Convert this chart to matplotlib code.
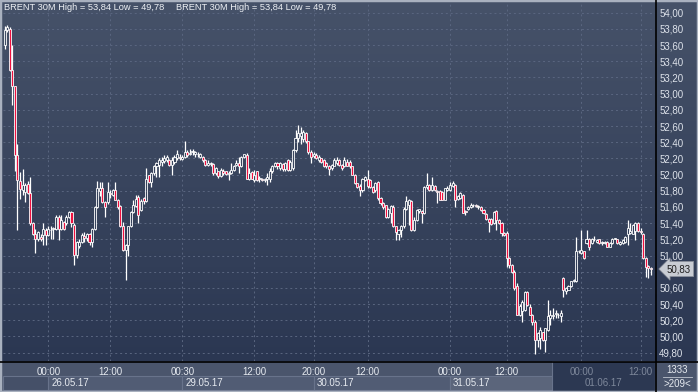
import numpy as np
import matplotlib
matplotlib.use("Agg")
import matplotlib.pyplot as plt
from matplotlib.colors import LinearSegmentedColormap
from matplotlib.patches import Rectangle
from matplotlib.lines import Line2D

plt.rcParams['font.family'] = ['Liberation Sans', 'DejaVu Sans']

# BRENT 30M candles (open, high, low, close)
opens = [53.60, 53.79, 53.80, 53.29, 53.09, 52.24, 51.92, 51.81, 51.79, 51.88,
         51.77, 51.40, 51.27, 51.21, 51.23, 51.25, 51.32, 51.25, 51.31, 51.33,
         51.33, 51.48, 51.33, 51.41, 51.40, 51.47, 51.54, 51.38, 51.01, 51.12,
         51.17, 51.24, 51.22, 51.27, 51.17, 51.33, 51.60, 51.80, 51.84, 51.66,
         51.66, 51.77, 51.75, 51.81, 51.69, 51.61, 51.36, 51.07, 51.13, 51.36,
         51.54, 51.61, 51.72, 51.56,
         51.71, 51.67, 51.99, 51.91, 52.02, 52.10, 52.12, 52.15, 52.17, 52.18,
         52.18, 52.12, 52.16, 52.20, 52.22, 52.19, 52.22, 52.28, 52.26, 52.28,
         52.25, 52.26, 52.22, 52.22, 52.18, 52.12, 52.13, 52.13, 52.02, 52.04,
         51.98, 52.05, 52.04, 52.01, 52.02, 52.06, 52.12, 52.14, 52.10, 52.22,
         52.24, 51.95, 52.03, 51.93, 52.04, 51.95, 51.95, 51.93, 51.94, 51.95,
         52.04, 52.10,
         52.14, 52.08, 52.13, 52.07, 52.18, 52.06, 52.08, 52.30, 52.45, 52.48,
         52.44, 52.51, 52.41, 52.28, 52.23, 52.24, 52.18, 52.20, 52.18, 52.14,
         52.11, 52.08, 52.11, 52.14, 52.18, 52.12, 52.10, 52.16, 52.16, 52.10,
         52.00, 51.89, 51.86, 51.81, 51.93, 51.95, 51.93, 51.85, 51.81, 51.91,
         51.71, 51.65, 51.62, 51.48, 51.52, 51.60, 51.36, 51.27, 51.32, 51.36,
         51.58, 51.62, 51.67, 51.32, 51.44, 51.55, 51.55, 51.52, 51.85, 51.87,
         51.81, 51.86, 51.80, 51.80, 51.79, 51.69, 51.81, 51.81, 51.86, 51.87,
         51.70, 51.71, 51.75, 51.55, 51.57, 51.60, 51.62, 51.62, 51.60, 51.60,
         51.56, 51.51, 51.45, 51.45, 51.40, 51.55, 51.44, 51.40, 51.28,
         51.28, 50.97, 50.88, 50.80, 50.62, 50.27, 50.31, 50.33, 50.55, 50.37,
         50.27, 50.18, 49.96, 49.98, 50.05, 49.96, 50.08, 50.23, 50.25, 50.28,
         50.27, 50.25, 50.72, 50.56, 50.58, 50.62, 50.68, 50.68, 51.05, 51.03,
         51.05, 51.15, 51.21, 51.15, 51.20, 51.17, 51.20, 51.16, 51.15, 51.17,
         51.11, 51.15, 51.21, 51.20, 51.14, 51.15, 51.17, 51.27, 51.28, 51.27,
         51.30, 51.40, 51.30, 51.27, 50.97, 50.87, 50.84]
highs = [53.84, 53.85, 53.82, 53.60, 53.10, 52.38, 52.03, 52.07, 51.89, 51.92,
         51.97, 51.41, 51.33, 51.30, 51.26, 51.40, 51.34, 51.36, 51.36, 51.35,
         51.50, 51.50, 51.50, 51.43, 51.50, 51.55, 51.55, 51.40, 51.18, 51.21,
         51.28, 51.29, 51.28, 51.28, 51.34, 51.61, 51.92, 51.91, 51.91, 51.67,
         51.91, 51.81, 51.82, 51.91, 51.70, 51.62, 51.42, 51.14, 51.37, 51.55,
         51.69, 51.75, 51.75, 51.70,
         51.72, 52.08, 52.00, 52.03, 52.12, 52.16, 52.20, 52.22, 52.24, 52.24,
         52.19, 52.22, 52.24, 52.30, 52.25, 52.24, 52.41, 52.30, 52.31, 52.31,
         52.29, 52.28, 52.27, 52.23, 52.19, 52.18, 52.16, 52.14, 52.09, 52.05,
         52.08, 52.07, 52.05, 52.04, 52.14, 52.12, 52.18, 52.22, 52.23, 52.26,
         52.27, 52.08, 52.04, 52.06, 52.05, 51.98, 51.96, 51.96, 52.02, 52.08,
         52.12, 52.16,
         52.16, 52.15, 52.14, 52.16, 52.19, 52.18, 52.32, 52.55, 52.61, 52.59,
         52.55, 52.53, 52.42, 52.30, 52.28, 52.27, 52.24, 52.21, 52.19, 52.15,
         52.12, 52.13, 52.20, 52.22, 52.19, 52.13, 52.22, 52.19, 52.18, 52.11,
         52.01, 51.90, 51.88, 51.96, 51.98, 52.06, 51.94, 51.86, 51.91, 51.92,
         51.72, 51.66, 51.63, 51.59, 51.63, 51.62, 51.37, 51.33, 51.38, 51.60,
         51.73, 51.70, 51.69, 51.48, 51.57, 51.58, 51.56, 51.86, 52.02, 51.88,
         51.97, 51.87, 51.81, 51.81, 51.80, 51.84, 51.86, 51.91, 51.92, 51.88,
         51.75, 51.78, 51.76, 51.56, 51.61, 51.65, 51.64, 51.64, 51.63, 51.61,
         51.57, 51.52, 51.46, 51.46, 51.55, 51.56, 51.45, 51.41, 51.29,
         51.30, 50.98, 50.90, 50.82, 50.66, 50.40, 50.45, 50.56, 50.56, 50.40,
         50.28, 50.20, 50.05, 50.12, 50.06, 50.11, 50.45, 50.33, 50.35, 50.33,
         50.29, 50.33, 50.74, 50.61, 50.64, 50.69, 50.71, 51.23, 51.07, 51.32,
         51.06, 51.32, 51.22, 51.22, 51.24, 51.20, 51.21, 51.18, 51.18, 51.18,
         51.17, 51.22, 51.22, 51.21, 51.18, 51.20, 51.24, 51.44, 51.40, 51.39,
         51.42, 51.42, 51.34, 51.28, 50.98, 50.88, 50.86]
lows = [53.55, 53.76, 53.28, 52.86, 52.04, 51.31, 51.70, 51.75, 51.66, 51.76,
        51.38, 51.25, 51.03, 51.18, 51.18, 51.13, 51.13, 51.24, 51.21, 51.21,
        51.32, 51.19, 51.32, 51.32, 51.38, 51.46, 51.35, 50.88, 50.97, 51.09,
        51.15, 51.17, 51.18, 51.13, 51.11, 51.32, 51.59, 51.73, 51.65, 51.48,
        51.64, 51.71, 51.74, 51.68, 51.58, 51.35, 51.06, 50.70, 50.99, 51.35,
        51.53, 51.60, 51.40, 51.55,
        51.64, 51.66, 51.90, 51.85, 52.00, 51.97, 51.97, 52.10, 52.14, 52.16,
        52.10, 52.00, 52.13, 52.18, 52.18, 52.18, 52.21, 52.22, 52.24, 52.24,
        52.22, 52.22, 52.20, 52.16, 52.10, 52.10, 52.11, 52.00, 52.00, 51.96,
        51.97, 52.00, 52.00, 51.93, 52.01, 52.05, 52.11, 52.02, 52.09, 52.21,
        51.94, 51.93, 51.94, 51.91, 51.92, 51.91, 51.92, 51.91, 51.87, 51.91,
        52.02, 52.09,
        52.07, 52.06, 52.05, 52.05, 52.04, 52.05, 52.06, 52.28, 52.40, 52.38,
        52.40, 52.39, 52.26, 52.14, 52.21, 52.19, 52.16, 52.14, 52.09, 52.08,
        52.00, 52.06, 52.10, 52.12, 52.11, 52.06, 52.09, 52.10, 52.08, 51.99,
        51.88, 51.83, 51.73, 51.79, 51.92, 51.84, 51.83, 51.77, 51.79, 51.69,
        51.63, 51.58, 51.46, 51.46, 51.40, 51.35, 51.19, 51.19, 51.23, 51.34,
        51.56, 51.38, 51.30, 51.30, 51.43, 51.52, 51.40, 51.51, 51.82, 51.80,
        51.80, 51.80, 51.65, 51.68, 51.68, 51.68, 51.80, 51.80, 51.85, 51.60,
        51.68, 51.70, 51.52, 51.50, 51.56, 51.59, 51.60, 51.60, 51.58, 51.55,
        51.51, 51.44, 51.29, 51.38, 51.39, 51.32, 51.39, 51.24, 51.24,
        50.86, 50.84, 50.79, 50.58, 50.26, 50.25, 50.18, 50.31, 50.38, 50.26,
        50.14, 49.78, 49.87, 49.85, 49.95, 49.81, 50.07, 50.14, 50.21, 50.23,
        50.23, 50.18, 50.49, 50.53, 50.57, 50.61, 50.67, 50.67, 51.03, 51.02,
        50.96, 51.14, 51.07, 51.14, 51.18, 51.16, 51.14, 51.13, 51.14, 51.10,
        51.10, 51.14, 51.20, 51.14, 51.13, 51.14, 51.16, 51.13, 51.26, 51.26,
        51.19, 51.29, 51.27, 50.96, 50.74, 50.72, 50.76]
closes = [53.78, 53.82, 53.29, 53.09, 52.24, 51.93, 51.82, 51.87, 51.87, 51.77,
          51.40, 51.27, 51.21, 51.29, 51.20, 51.33, 51.25, 51.33, 51.32, 51.34,
          51.48, 51.33, 51.44, 51.33, 51.48, 51.54, 51.40, 51.01, 51.17, 51.17,
          51.25, 51.22, 51.27, 51.17, 51.33, 51.60, 51.83, 51.83, 51.66, 51.60,
          51.79, 51.76, 51.81, 51.69, 51.60, 51.36, 51.07, 51.13, 51.36, 51.54,
          51.62, 51.70, 51.50, 51.67,
          51.67, 51.95, 51.91, 52.02, 52.10, 52.14, 52.18, 52.18, 52.20, 52.22,
          52.12, 52.18, 52.22, 52.26, 52.20, 52.22, 52.28, 52.24, 52.27, 52.28,
          52.28, 52.25, 52.26, 52.18, 52.12, 52.14, 52.13, 52.02, 52.08, 51.98,
          52.06, 52.02, 52.01, 52.02, 52.06, 52.11, 52.14, 52.10, 52.22, 52.25,
          51.95, 52.02, 51.95, 51.99, 51.93, 51.96, 51.93, 51.95, 51.97, 52.04,
          52.10, 52.14,
          52.10, 52.14, 52.07, 52.14, 52.06, 52.16, 52.30, 52.45, 52.51, 52.51,
          52.53, 52.41, 52.28, 52.22, 52.25, 52.20, 52.22, 52.15, 52.11, 52.10,
          52.07, 52.12, 52.18, 52.18, 52.12, 52.08, 52.18, 52.11, 52.10, 52.00,
          51.89, 51.85, 51.81, 51.95, 51.97, 51.86, 51.85, 51.79, 51.89, 51.71,
          51.65, 51.60, 51.48, 51.58, 51.61, 51.36, 51.29, 51.31, 51.36, 51.58,
          51.67, 51.69, 51.32, 51.44, 51.56, 51.57, 51.52, 51.85, 51.87, 51.81,
          51.87, 51.81, 51.79, 51.69, 51.69, 51.83, 51.83, 51.87, 51.89, 51.69,
          51.74, 51.77, 51.53, 51.54, 51.60, 51.62, 51.62, 51.61, 51.60, 51.56,
          51.52, 51.45, 51.41, 51.39, 51.54, 51.44, 51.40, 51.28, 51.25,
          50.97, 50.88, 50.80, 50.60, 50.27, 50.38, 50.43, 50.55, 50.39, 50.27,
          50.18, 49.96, 50.04, 50.08, 49.96, 50.10, 50.25, 50.27, 50.26, 50.29,
          50.26, 50.29, 50.58, 50.60, 50.62, 50.68, 50.70, 51.05, 51.06, 51.07,
          50.97, 51.21, 51.11, 51.21, 51.20, 51.19, 51.15, 51.17, 51.17, 51.11,
          51.16, 51.21, 51.21, 51.15, 51.17, 51.19, 51.23, 51.34, 51.30, 51.38,
          51.40, 51.30, 51.29, 50.97, 50.86, 50.84, 50.83]

# time axis: candle index of each labelled time
tick_idx = [17, 41, 69, 97, 120, 141, 173, 195, 224, 247]
tick_labels = ['00:00', '12:00', '00:30', '12:00', '20:00', '12:00',
               '00:00', '12:00', '00:00', '12:00']
day_start = [17, 69, 120, 173, 224]
day_labels = ['26.05.17', '29.05.17', '30.05.17', '31.05.17', '01.06.17']

y_levels = np.arange(49.8, 54.01, 0.2)
last_price = 50.83
title = 'BRENT 30M High = 53,84 Low = 49,78'

W, H = 698, 392
fig = plt.figure(figsize=(W / 100, H / 100), dpi=100)
fig.patch.set_facecolor('#4a556c')

def fx(px):
    return px / W

def fy(py):
    return 1 - py / H

def comma(v):
    return ('%.2f' % v).replace('.', ',')

# background gradient for chart + price scale
bg = fig.add_axes([0, 0, 1, 1])
bg.set_xlim(0, 1)
bg.set_ylim(0, 1)
bg.axis('off')
grad = np.linspace(0, 1, 256).reshape(-1, 1)
cmap = LinearSegmentedColormap.from_list('bg', ['#2b3752', '#465269'])
bg.imshow(grad, extent=[0, 1, fy(361), 1], origin='lower', aspect='auto', cmap=cmap)

o = np.array(opens)
h = np.array(highs)
l = np.array(lows)
c = np.array(closes)
x = np.arange(len(c))
n = len(c)

ax = fig.add_axes([fx(3), fy(361), fx(652), (361 - 2) / H])
ax.set_facecolor('none')
for s in ax.spines.values():
    s.set_visible(False)

ax.set_xlim(-0.6, n + 0.6)
ax.set_ylim(49.697, 54.132)

# the 50,80 label sits under the last-price tag in the original
ax.set_yticks(y_levels)
ax.set_yticklabels(['' if abs(v - 50.8) < 0.01 else comma(v) for v in y_levels])
ax.yaxis.tick_right()
ax.tick_params(axis='y', length=0, pad=3, labelsize=7, labelcolor='#dde2ea')
ax.set_xticks(tick_idx)
ax.tick_params(axis='x', length=0, labelbottom=False)
ax.grid(True, color='#5a6680', lw=0.7, ls=(0, (2, 3)))
ax.set_axisbelow(True)

top = np.maximum(o, c)
bot = np.minimum(o, c)
up = c >= o
ax.vlines(x, top, h, color='white', lw=0.9, zorder=3)
ax.vlines(x, l, bot, color='white', lw=0.9, zorder=3)
body = np.maximum(top - bot, 0.008)
ax.bar(x, body, bottom=bot, width=0.8,
       color=np.where(up, 'none', '#f0103f'), edgecolor='white', lw=0.6, zorder=4)

fig.text(fx(4), fy(8), title, color='#eef1f5', fontsize=6.7, va='center')
fig.text(fx(176), fy(8), title, color='#eef1f5', fontsize=6.7, va='center')

# last price tag
fig.text(fx(667), fy(269), comma(last_price), fontsize=7,
         color='#1e1e1e', va='center', ha='left', zorder=10,
         bbox=dict(boxstyle='larrow,pad=0.25', fc='#c8ccd3', ec='#8d939e', lw=0.6))

# bottom time scale
bax = fig.add_axes([fx(3), 0, fx(652), 31 / H], sharex=ax)
bax.set_facecolor('#4a556c')
bax.set_ylim(0, 31)
bax.axis('off')
bounds = [-0.6] + day_start + [n + 0.6]
bax.add_patch(Rectangle((bounds[0], 2), bounds[1] - bounds[0], 14,
                        fc='#455068', ec='#68738b', lw=0.8))
for i in range(len(day_start)):
    x0 = bounds[i + 1]
    x1 = bounds[i + 2]
    fc = '#5b657b' if i == 3 else '#515c74'
    bax.add_patch(Rectangle((x0, 2), x1 - x0, 14, fc=fc, ec='#68738b', lw=0.8))
bax.add_patch(Rectangle((212.5, 0), n + 0.6 - 212.5, 31, fc='#2c3852', ec='#68738b',
                        lw=0.8, zorder=2))
for xi, lab in zip(tick_idx, tick_labels):
    col = '#7e889b' if xi > 212 else '#e6eaf0'
    bax.text(xi, 20, lab, ha='center', va='center', fontsize=7, color=col, zorder=3)
for xi, lab in zip(day_start, day_labels):
    col = '#7e889b' if xi > 212 else '#e6eaf0'
    bax.text(xi + 1.2, 9, lab, ha='left', va='center', fontsize=7, color=col, zorder=3)

# corner box
fig.text(fx(677), fy(370), '1333', ha='center', va='center', fontsize=7, color='#e6eaf0')
fig.text(fx(677), fy(384), '>209<', ha='center', va='center', fontsize=7, color='#e6eaf0')
fig.add_artist(Line2D([fx(663), fx(692)], [fy(377), fy(377)], color='#c0c6d0', lw=0.6))

# separators and frame
fig.add_artist(Line2D([fx(655.5), fx(655.5)], [0, 1], color='black', lw=1.2))
fig.add_artist(Line2D([0, 1], [fy(361.5), fy(361.5)], color='black', lw=1.2))
fig.add_artist(Rectangle((0, 0), 1, 1, transform=fig.transFigure, fill=False,
                         ec='#a9b1bf', lw=2.5))

fig.savefig('out.png', dpi=100)
